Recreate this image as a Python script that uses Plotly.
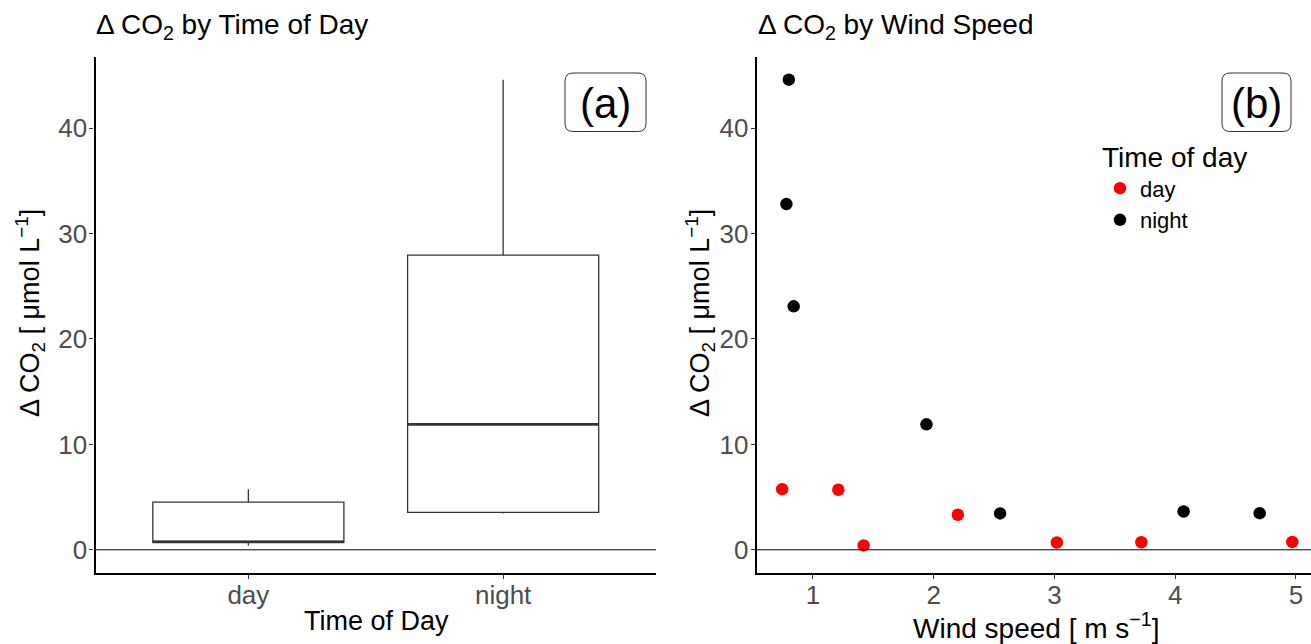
import numpy as np
import plotly.graph_objects as go

# ---------------- data ----------------
groups = ["day", "night"]
day_wind = [0.745, 1.21, 1.42, 2.20, 3.02, 3.72, 4.97]
day_co2 = [5.75, 5.70, 0.42, 3.33, 0.69, 0.72, 0.75]
night_wind = [0.80, 0.78, 0.84, 1.94, 2.55, 4.07, 4.70]
night_co2 = [44.6, 32.8, 23.1, 11.9, 3.45, 3.63, 3.48]

W, H = 1311, 644
FONT = "Liberation Sans, Arial, sans-serif"
TICK_COL = "#4D4D4D"

def px(x):
    return x / W

def py(y):
    return 1 - y / H

fig = go.Figure()

# ---------------- panel (a): boxplots ----------------
for i, (g, vals) in enumerate(zip(groups, [day_co2, night_co2]), start=1):
    v = np.array(vals)
    q1, med, q3 = np.percentile(v, [25, 50, 75])
    iqr = q3 - q1
    lo = v[v >= q1 - 1.5 * iqr].min()
    hi = v[v <= q3 + 1.5 * iqr].max()
    fig.add_trace(go.Box(
        x=[i], q1=[q1], median=[med], q3=[q3], lowerfence=[lo], upperfence=[hi],
        width=0.75, whiskerwidth=0, fillcolor="white",
        line=dict(color="#333333", width=1.3), boxpoints=False,
        showlegend=False, xaxis="x", yaxis="y", hoverinfo="skip"))
    fig.add_trace(go.Scatter(
        x=[i - 0.375, i + 0.375], y=[med, med], mode="lines",
        line=dict(color="#333333", width=2.6), showlegend=False,
        xaxis="x", yaxis="y", hoverinfo="skip"))

# ---------------- panel (b): scatter ----------------
fig.add_trace(go.Scatter(x=day_wind, y=day_co2, mode="markers", name="day",
                         marker=dict(color="#FF0000", size=12.5),
                         xaxis="x2", yaxis="y2"))
fig.add_trace(go.Scatter(x=night_wind, y=night_co2, mode="markers", name="night",
                         marker=dict(color="#000000", size=12.5),
                         xaxis="x2", yaxis="y2"))

yrange = [-2.2, 46.75]
ydom = [py(573), py(57)]

axis_common = dict(
    showgrid=False, zeroline=False, showline=True, linecolor="black", linewidth=2.2,
    ticks="outside", ticklen=4, tickwidth=1, tickcolor="#333333",
    tickfont=dict(family=FONT, size=26, color=TICK_COL), mirror=False,
)
xstand = dict(ticklabelstandoff=-6)
ystand = dict(ticklabelstandoff=-3)

fig.update_layout(
    width=W, height=H, margin=dict(l=0, r=0, t=0, b=0),
    paper_bgcolor="white", plot_bgcolor="white",
    font=dict(family=FONT, color="black"),
    xaxis=dict(domain=[px(95.5), px(656)], range=[0.4, 2.6],
               tickvals=[1, 2], ticktext=groups, anchor="y", **axis_common, **xstand),
    yaxis=dict(domain=ydom, range=yrange, tickvals=[0, 10, 20, 30, 40],
               anchor="x", **axis_common, **ystand),
    xaxis2=dict(domain=[px(756.7), 1.0], range=[0.534, 5.125],
                tickvals=[1, 2, 3, 4, 5], anchor="y2", **axis_common, **xstand),
    yaxis2=dict(domain=ydom, range=yrange, tickvals=[0, 10, 20, 30, 40],
                anchor="x2", **axis_common, **ystand),
    legend=dict(x=px(1100), y=py(131), xanchor="left", yanchor="top",
                title=dict(text="Time of day", font=dict(family=FONT, size=28, color="black")),
                font=dict(family=FONT, size=22, color="black"),
                bgcolor="rgba(0,0,0,0)", itemwidth=30, tracegroupgap=0),
)

# zero lines
for xr, yr in [("x domain", "y"), ("x2 domain", "y2")]:
    fig.add_shape(type="line", xref=xr, yref=yr, x0=0, x1=1, y0=0, y1=0,
                  line=dict(color="black", width=1))

# titles
fig.add_annotation(text="Δ CO<sub>2</sub> by Time of Day", xref="paper", yref="paper",
                   x=px(94), y=py(27), xanchor="left", yanchor="middle", showarrow=False,
                   font=dict(family=FONT, size=28, color="black"))
fig.add_annotation(text="Δ CO<sub>2</sub> by Wind Speed", xref="paper", yref="paper",
                   x=px(756), y=py(27), xanchor="left", yanchor="middle", showarrow=False,
                   font=dict(family=FONT, size=28, color="black"))

# axis titles
fig.add_annotation(text="Time of Day", xref="paper", yref="paper",
                   x=px(376), y=py(621), xanchor="center", yanchor="middle", showarrow=False,
                   font=dict(family=FONT, size=27, color="black"))
fig.add_annotation(text="Wind speed [ m s<sup>−1</sup>]", xref="paper", yref="paper",
                   x=px(1036), y=py(626), xanchor="center", yanchor="middle", showarrow=False,
                   font=dict(family=FONT, size=28, color="black"))
for xc in [30, 700]:
    fig.add_annotation(text="Δ CO<sub>2</sub> [ μmol L<sup>−1</sup>]", xref="paper", yref="paper",
                       x=px(xc), y=py(313), xanchor="center", yanchor="middle", showarrow=False,
                       textangle=-90, font=dict(family=FONT, size=27, color="black"))

# panel labels with rounded boxes
def rounded_box(x0, y0, x1, y1, r=8):
    X0, X1 = px(x0), px(x1)
    Y0, Y1 = py(y0), py(y1)
    rx, ry = r / W, r / H
    return (f"M {X0+rx},{Y0} L {X1-rx},{Y0} Q {X1},{Y0} {X1},{Y0-ry} "
            f"L {X1},{Y1+ry} Q {X1},{Y1} {X1-rx},{Y1} L {X0+rx},{Y1} "
            f"Q {X0},{Y1} {X0},{Y1+ry} L {X0},{Y0-ry} Q {X0},{Y0} {X0+rx},{Y0} Z")

for lab, (x0, x1) in [("(a)", (565, 646)), ("(b)", (1222, 1291))]:
    fig.add_shape(type="path", xref="paper", yref="paper",
                  path=rounded_box(x0, 73, x1, 131.5),
                  line=dict(color="#333333", width=1), fillcolor="white")
    fig.add_annotation(text=lab, xref="paper", yref="paper",
                       x=px((x0 + x1) / 2), y=py(103), xanchor="center", yanchor="middle",
                       showarrow=False, font=dict(family=FONT, size=42, color="black"))

fig.write_html("out.html")
